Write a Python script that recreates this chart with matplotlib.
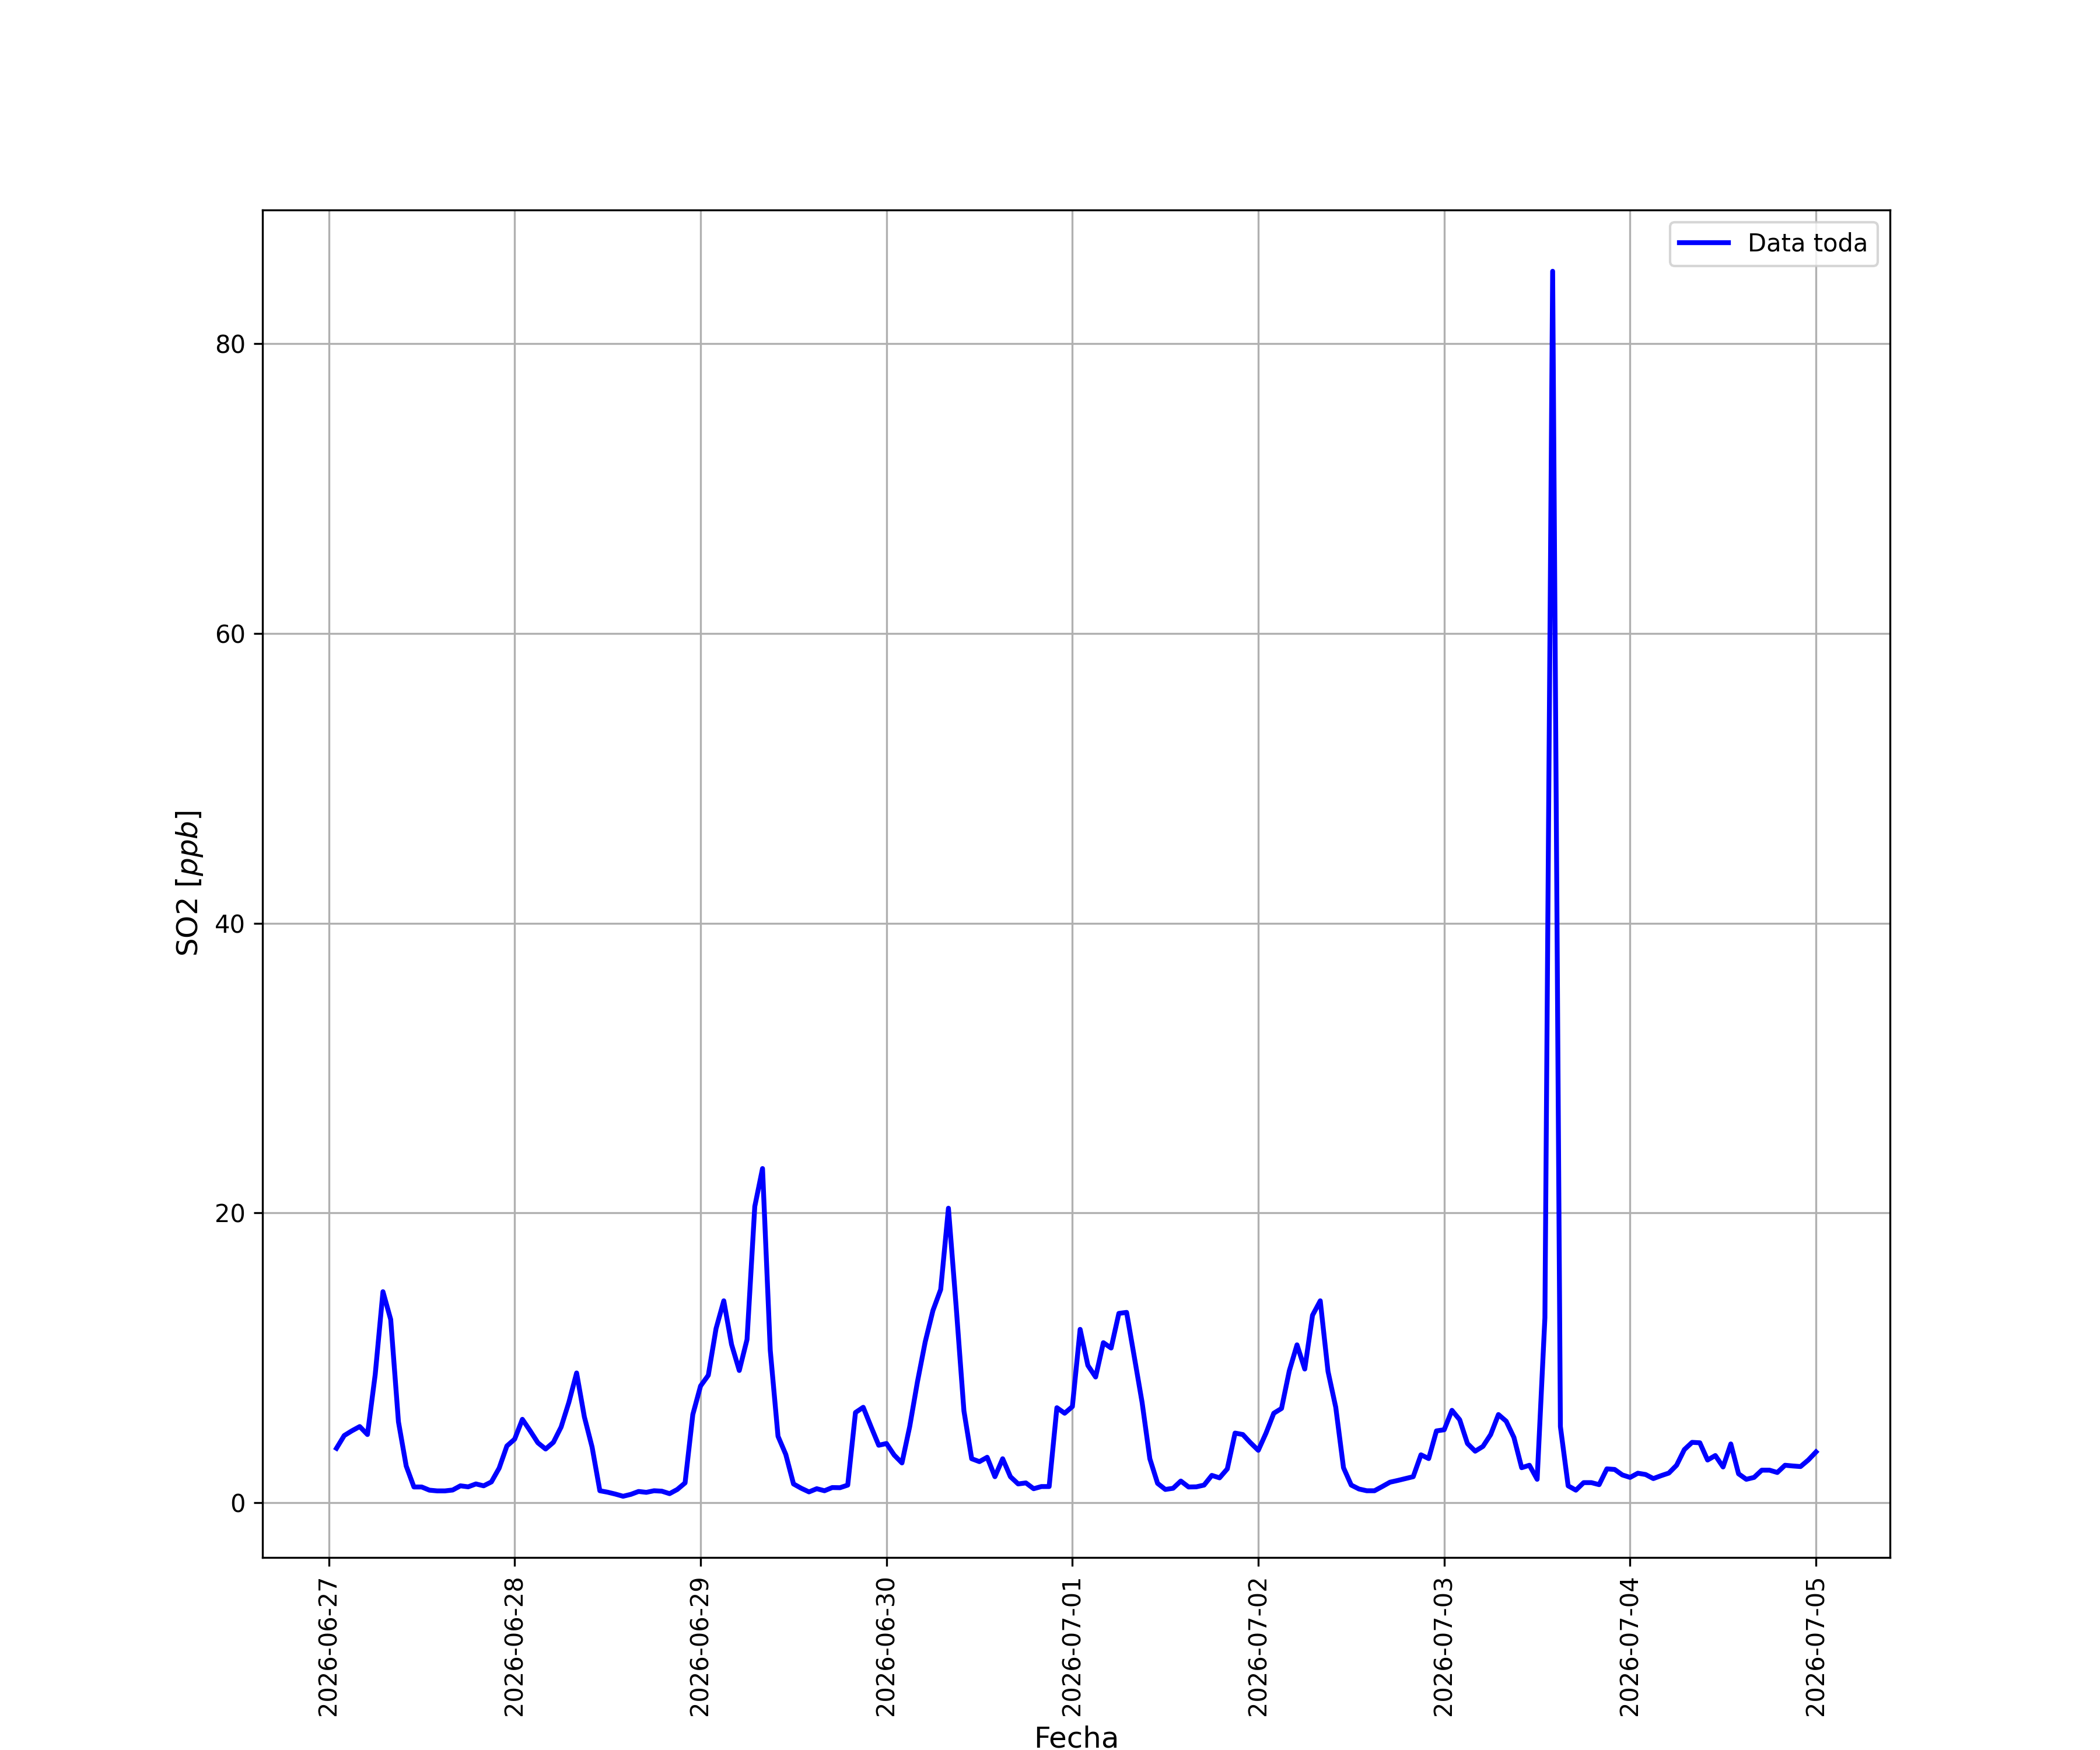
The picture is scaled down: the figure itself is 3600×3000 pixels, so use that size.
import numpy as np
import pandas as pd
import matplotlib
matplotlib.use('Agg')
from matplotlib import pyplot as plt

# hourly timestamps, first reading at 2026-06-27 01:00
fechas = pd.date_range('2026-06-27 01:00', '2026-07-05 00:00', freq='h')

so2 = [
    # 06-27 01h..06-28 00h
    3.76, 4.64, 4.97, 5.26, 4.71, 8.85, 14.57, 12.65, 5.59, 2.54, 1.09, 1.09,
    0.87, 0.82, 0.82, 0.88, 1.17, 1.10, 1.30, 1.17, 1.44, 2.39, 3.92, 4.39,
    # 06-28 01h..06-29 00h
    5.76, 4.97, 4.14, 3.71, 4.17, 5.23, 6.93, 8.96, 5.93, 3.84, 0.83, 0.73,
    0.60, 0.45, 0.58, 0.78, 0.72, 0.83, 0.80, 0.63, 0.92, 1.37, 6.09, 8.06,
    # 06-29 01h..06-30 00h
    8.80, 12.02, 13.94, 10.93, 9.13, 11.27, 20.45, 23.07, 10.52, 4.59, 3.34, 1.30,
    1.00, 0.75, 0.97, 0.83, 1.05, 1.04, 1.22, 6.23, 6.59, 5.26, 3.97, 4.09,
    # 06-30 01h..07-01 00h
    3.29, 2.75, 5.26, 8.35, 11.10, 13.27, 14.72, 20.33, 13.52, 6.34, 3.04, 2.84,
    3.14, 1.80, 3.04, 1.80, 1.30, 1.37, 0.97, 1.12, 1.12, 6.56, 6.18, 6.64,
    # 07-01 01h..07-02 00h
    11.97, 9.48, 8.68, 11.05, 10.68, 13.07, 13.14, 10.05, 6.93, 3.04, 1.34, 0.92,
    1.00, 1.50, 1.09, 1.10, 1.22, 1.89, 1.72, 2.34, 4.81, 4.71, 4.14, 3.62,
    # 07-02 01h..07-03 00h
    4.81, 6.18, 6.51, 9.10, 10.90, 9.23, 12.94, 13.94, 9.07, 6.59, 2.42, 1.22,
    0.95, 0.83, 0.83, 1.12, 1.42, 1.54, 1.67, 1.80, 3.31, 3.05, 4.96, 5.04,
    # 07-03 01h..07-04 00h
    6.38, 5.73, 4.09, 3.56, 3.89, 4.71, 6.09, 5.63, 4.51, 2.42, 2.59, 1.62,
    12.77, 85.0, 5.26, 1.17, 0.87, 1.39, 1.39, 1.25, 2.34, 2.30, 1.92, 1.75,
    # 07-04 01h..07-05 00h
    2.04, 1.95, 1.67, 1.87, 2.05, 2.59, 3.67, 4.17, 4.14, 2.95, 3.26, 2.47,
    4.06, 2.00, 1.62, 1.75, 2.25, 2.25, 2.09, 2.59, 2.54, 2.50, 2.95, 3.51,
]

fig = plt.figure(figsize=(12, 10), dpi=300)
ax = fig.add_subplot(111)
ax.plot(fechas, so2, color='blue', linewidth=2, label='Data toda')
ax.set_xlabel('Fecha', fontsize=12)
ax.set_ylabel('SO2 [$ppb$]', fontsize=12)
ax.grid(True)
ax.legend(loc='upper right')
plt.xticks(rotation=90)
fig.savefig('out.png', dpi=300)
